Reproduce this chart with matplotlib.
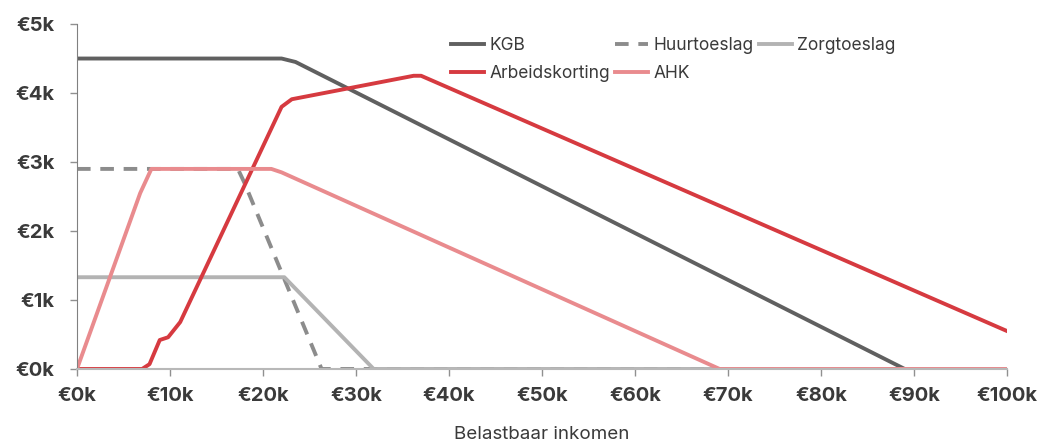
import numpy as np
import matplotlib
matplotlib.use('Agg')
import matplotlib.pyplot as plt

plt.rcParams['font.family'] = ['Inter', 'DejaVu Sans']

# Toeslagen en heffingskortingen (euro) per belastbaar inkomen
kgbX = [0, 22000, 23500, 89000, 100000]
kgbY = [4500, 4500, 4450, 0, 0]

huurX = [0, 17300, 18000, 26300, 100000]
huurY = [2900, 2900, 2700, 0, 0]

zorgX = [0, 22300, 31900, 100000]
zorgY = [1330, 1330, 0, 0]

akX = [0, 7000, 7800, 8900, 9800, 11100, 22000, 23100, 36200, 37000, 100000]
akY = [0, 0, 70, 420, 460, 680, 3800, 3910, 4250, 4250, 550]

ahkX = [0, 6800, 8000, 20900, 22000, 69100, 100000]
ahkY = [0, 2550, 2900, 2900, 2850, 0, 0]

xTicks = np.arange(0, 100001, 10000)
yTicks = np.arange(0, 5001, 1000)

fig = plt.figure(figsize=(10.43, 4.45), dpi=100)
ax = fig.add_axes([0.0738, 0.1708, 0.8917, 0.7752])

lw = 2.8
hKgb, = ax.plot(kgbX, kgbY, color='#606060', lw=lw, label='KGB')
hHuur, = ax.plot(huurX, huurY, color='#8c8c8c', lw=lw, ls=(0, (3.5, 2.5)), label='Huurtoeslag')
hZorg, = ax.plot(zorgX, zorgY, color='#b3b3b3', lw=lw, label='Zorgtoeslag')
hAk, = ax.plot(akX, akY, color='#d63a40', lw=lw, label='Arbeidskorting')
hAhk, = ax.plot(ahkX, ahkY, color='#e98b8e', lw=lw, label='AHK')

ax.set_xlim(0, 100000)
ax.set_ylim(0, 5000)
ax.set_xticks(xTicks)
ax.set_yticks(yTicks)
ax.set_xticklabels(['€%dk' % (v // 1000) for v in xTicks])
ax.set_yticklabels(['€%dk' % (v // 1000) for v in yTicks])

for side in ['top', 'right']:
    ax.spines[side].set_visible(False)
ax.spines['left'].set_color('#808080')
ax.spines['bottom'].set_color('#b8b8b8')
ax.spines['bottom'].set_linewidth(1.5)
ax.tick_params(axis='both', direction='out', length=5, width=1, color='#909090',
               labelsize=14.5, labelcolor='#3a3a3a')
ax.tick_params(axis='y', pad=11)
ax.tick_params(axis='x', pad=8)
for lbl in ax.get_xticklabels() + ax.get_yticklabels():
    lbl.set_fontweight('bold')

ax.set_xlabel('Belastbaar inkomen', fontsize=13.5, color='#3a3a3a', labelpad=15)

# rij-voor-rij volgorde in drie kolommen
handles = [hKgb, hAk, hHuur, hAhk, hZorg]
leg = fig.legend(handles=handles, labels=[h.get_label() for h in handles],
                 loc='upper left', bbox_to_anchor=(451 / 1043, 1 - 37 / 445), ncol=3,
                 frameon=False, fontsize=12.5, handlelength=1.9, handletextpad=0.3,
                 columnspacing=0.3, labelspacing=0.62, borderpad=0, borderaxespad=0)
for t in leg.get_texts():
    t.set_color('#3a3a3a')

fig.savefig('out.png', dpi=100)
